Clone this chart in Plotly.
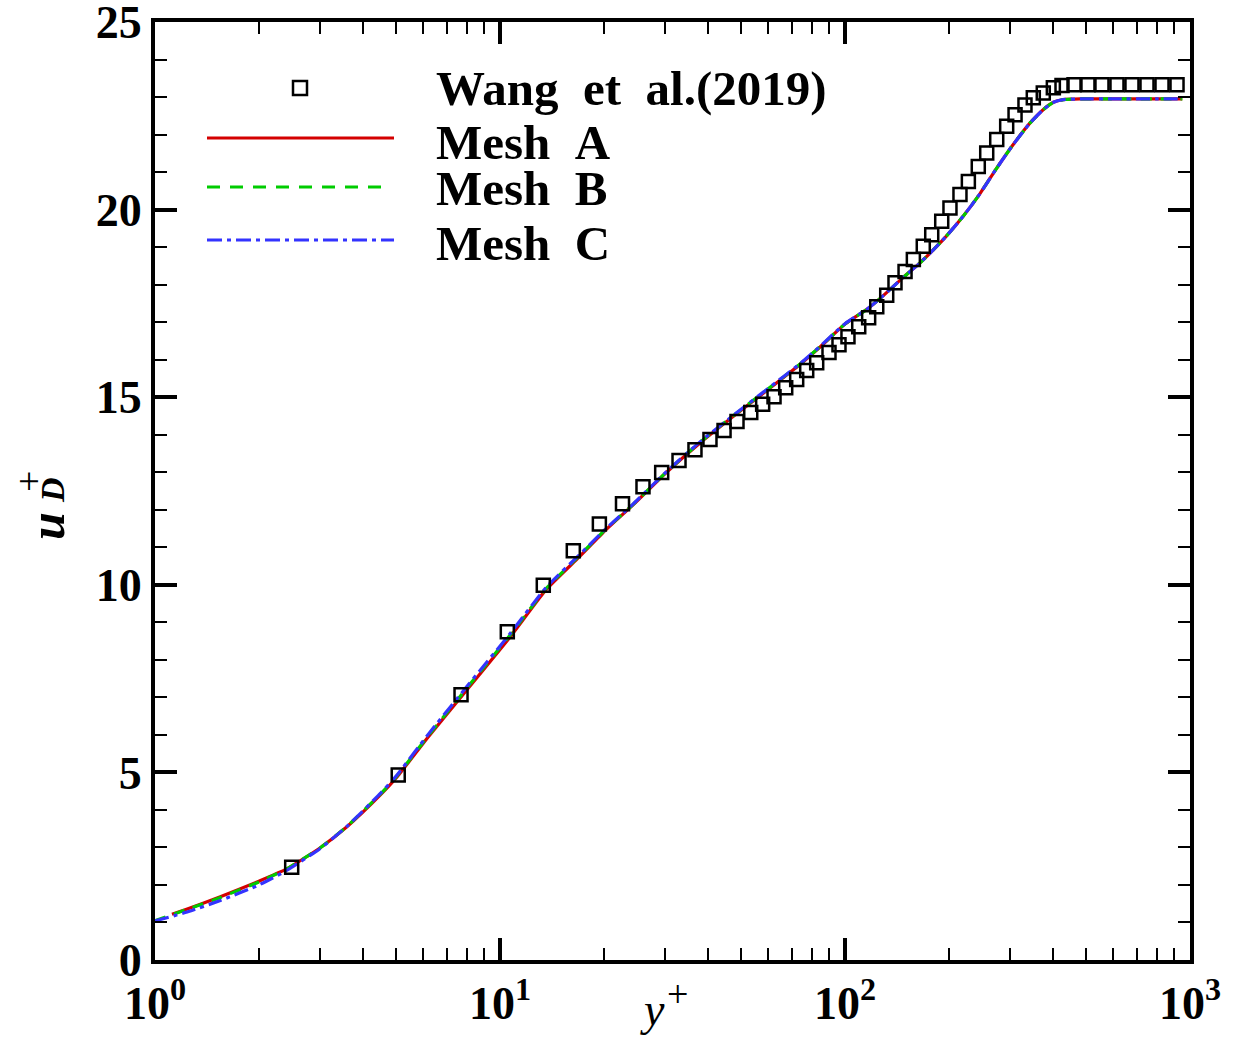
import plotly.graph_objects as go

# ---------------- data ----------------
wang_yplus = [2.49, 5.07, 7.71, 10.50, 13.35, 16.31, 19.41, 22.65, 25.97, 29.42,
              33.03, 36.74, 40.61, 44.61, 48.64, 53.31, 57.72, 62.27, 67.32, 72.44,
              77.45, 82.79, 89.87, 96.07, 102.0, 109.6, 117.1, 123.6, 132.1, 139.6,
              149.3, 157.8, 168.6, 178.4, 190.7, 201.5, 215.4, 227.8, 243.4, 257.5,
              275.3, 294.2, 311.1, 332.4, 351.4, 375.6, 401.7, 425.6, 461.1, 506.1,
              555.7, 614.3, 678.9, 750.5, 829.6, 917.0, 1013.4]
wang_uplus = [2.47, 4.93, 7.07, 8.75, 9.99, 10.91, 11.62, 12.16, 12.61, 12.99,
              13.31, 13.60, 13.87, 14.11, 14.35, 14.59, 14.81, 15.01, 15.25, 15.47,
              15.71, 15.92, 16.19, 16.40, 16.61, 16.88, 17.12, 17.41, 17.72, 18.05,
              18.35, 18.67, 19.02, 19.33, 19.69, 20.04, 20.40, 20.75, 21.15, 21.51,
              21.87, 22.22, 22.53, 22.79, 22.98, 23.11, 23.25, 23.31, 23.33, 23.33,
              23.33, 23.33, 23.33, 23.33, 23.33, 23.33, 23.33]

meshA_yplus = [1.12, 1.24, 1.54, 2.0, 2.4, 3.0, 3.6, 4.5, 5.0, 6.2, 8.1, 10.7, 13.6,
               17.0, 20.3, 24.3, 30.4, 38.0, 47.5, 60.0, 74.0, 85.0, 100.0, 116.0,
               126.0, 147.0, 165.0, 180.0, 197.0, 220.0, 246.0, 275.0, 307.0, 344.0,
               376.0, 402.0, 429.0, 480.0, 600.0, 800.0, 950.0]
meshA_uplus = [1.22, 1.36, 1.68, 2.10, 2.42, 2.98, 3.55, 4.40, 4.85, 5.95, 7.25, 8.61,
               9.87, 10.75, 11.47, 12.13, 13.00, 13.78, 14.49, 15.21, 15.87, 16.35,
               16.95, 17.35, 17.62, 18.18, 18.58, 18.92, 19.30, 19.82, 20.42, 21.10,
               21.73, 22.31, 22.67, 22.86, 22.93, 22.95, 22.95, 22.95, 22.95]

meshB_yplus = [1.0, 1.24, 1.54, 2.0, 2.4, 3.0, 3.6, 4.5, 5.0, 6.2, 8.1, 10.7, 13.6,
               17.0, 20.3, 24.3, 30.4, 38.0, 47.5, 60.0, 74.0, 85.0, 100.0, 116.0,
               126.0, 147.0, 165.0, 180.0, 197.0, 220.0, 246.0, 275.0, 307.0, 344.0,
               376.0, 402.0, 429.0, 480.0, 600.0, 800.0, 950.0]
meshB_uplus = [1.05, 1.35, 1.66, 2.08, 2.42, 2.98, 3.56, 4.42, 4.88, 5.98, 7.30, 8.66,
               9.90, 10.78, 11.49, 12.14, 13.01, 13.80, 14.51, 15.23, 15.88, 16.36,
               16.95, 17.35, 17.62, 18.18, 18.58, 18.92, 19.30, 19.82, 20.42, 21.10,
               21.73, 22.31, 22.67, 22.86, 22.93, 22.95, 22.95, 22.95, 22.95]

meshC_yplus = [1.0, 1.24, 1.54, 2.0, 2.4, 3.0, 3.6, 4.5, 5.0, 6.2, 8.1, 10.7, 13.6,
               17.0, 20.3, 24.3, 30.4, 38.0, 47.5, 60.0, 74.0, 85.0, 100.0, 116.0,
               126.0, 147.0, 165.0, 180.0, 197.0, 220.0, 246.0, 275.0, 307.0, 344.0,
               376.0, 402.0, 429.0, 480.0, 600.0, 800.0, 950.0]
meshC_uplus = [1.04, 1.28, 1.58, 2.00, 2.38, 2.96, 3.56, 4.44, 4.90, 6.02, 7.34, 8.70,
               9.93, 10.80, 11.50, 12.15, 13.02, 13.81, 14.52, 15.24, 15.89, 16.37,
               16.96, 17.35, 17.62, 18.18, 18.58, 18.92, 19.30, 19.82, 20.42, 21.10,
               21.73, 22.31, 22.67, 22.86, 22.93, 22.95, 22.95, 22.95, 22.95]

x_tickvals = [1, 10, 100, 1000]
x_ticktext = ["10<sup>0</sup>", "10<sup>1</sup>", "10<sup>2</sup>", "10<sup>3</sup>"]
x_minorvals = [m * d for d in (1, 10, 100) for m in range(2, 10)]
y_tickvals = [0, 5, 10, 15, 20, 25]
y_ticktext = ["0", "5", "10", "15", "20", "25"]

legend_labels = ["Wang et al.(2019)", "Mesh A", "Mesh B", "Mesh C"]

# ---------------- styles ----------------
RED = "#d40000"
GREEN = "#00cc00"
BLUE = "#3333ff"
SERIF = "Liberation Serif"

W, H = 1246, 1037
L, R, T, B = 155, 56, 22, 77
PW, PH = W - L - R, H - T - B


def px(xp):
    return (xp - L) / PW


def py(yp):
    return (H - B - yp) / PH


fig = go.Figure()
fig.add_trace(go.Scatter(x=meshA_yplus, y=meshA_uplus, mode="lines", name="Mesh A",
                         line=dict(color=RED, width=3.2, shape="spline", smoothing=0.5)))
fig.add_trace(go.Scatter(x=meshB_yplus, y=meshB_uplus, mode="lines", name="Mesh B",
                         line=dict(color=GREEN, width=3.2, dash="11px,9px",
                                   shape="spline", smoothing=0.5)))
fig.add_trace(go.Scatter(x=meshC_yplus, y=meshC_uplus, mode="lines", name="Mesh C",
                         line=dict(color=BLUE, width=3.2, dash="14px,5px,4px,5px",
                                   shape="spline", smoothing=0.5)))
fig.add_trace(go.Scatter(x=wang_yplus, y=wang_uplus, mode="markers", name=legend_labels[0],
                         cliponaxis=False,
                         marker=dict(symbol="square-open", size=13, color="black",
                                     line=dict(color="black", width=2.5))))

# ---- legend drawn by hand (long sample lines like the original) ----
shapes = [
    dict(type="rect", xref="paper", yref="paper",
         x0=px(293), x1=px(307), y0=py(95), y1=py(81),
         line=dict(color="black", width=2.5)),
    dict(type="line", xref="paper", yref="paper", x0=px(207), x1=px(394),
         y0=py(138), y1=py(138), line=dict(color=RED, width=3.2)),
    dict(type="line", xref="paper", yref="paper", x0=px(207), x1=px(385),
         y0=py(187), y1=py(187), line=dict(color=GREEN, width=3.2, dash="13px,10px")),
    dict(type="line", xref="paper", yref="paper", x0=px(207), x1=px(394),
         y0=py(240), y1=py(240), line=dict(color=BLUE, width=3.2, dash="15px,5px,4px,5px")),
]
legend_y = [88, 143, 188, 243]
annotations = []
for lab, yy in zip(legend_labels, legend_y):
    annotations.append(dict(text=lab.replace(" ", "&nbsp;&nbsp;"), xref="paper", yref="paper",
                            x=px(434), y=py(yy),
                            xanchor="left", yanchor="middle", showarrow=False,
                            font=dict(family=SERIF, size=49, color="black", weight="bold")))

# axis titles
annotations.append(dict(text="<i>y</i>", xref="paper", yref="paper",
                        x=px(652), y=py(1010), xanchor="center", yanchor="middle",
                        showarrow=False, font=dict(family=SERIF, size=46, color="black")))
annotations.append(dict(text="+", xref="paper", yref="paper",
                        x=px(677), y=py(994), xanchor="center", yanchor="middle",
                        showarrow=False, font=dict(family=SERIF, size=38, color="black")))
annotations.append(dict(text="<i>u</i>", xref="paper", yref="paper", textangle=-90,
                        x=px(47), y=py(526), xanchor="center", yanchor="middle",
                        showarrow=False,
                        font=dict(family=SERIF, size=50, color="black", weight="bold")))
annotations.append(dict(text="+", xref="paper", yref="paper", textangle=-90,
                        x=px(29), y=py(482), xanchor="center", yanchor="middle",
                        showarrow=False, font=dict(family=SERIF, size=38, color="black")))
annotations.append(dict(text="<i>D</i>", xref="paper", yref="paper", textangle=-90,
                        x=px(52), y=py(490), xanchor="center", yanchor="middle",
                        showarrow=False,
                        font=dict(family=SERIF, size=34, color="black", weight="bold")))

tickfont = dict(family=SERIF, size=46, color="black", weight="bold")

fig.update_layout(
    width=W, height=H,
    margin=dict(l=L, r=R, t=T, b=B, autoexpand=False),
    paper_bgcolor="white", plot_bgcolor="white",
    showlegend=False,
    shapes=shapes,
    annotations=annotations,
    xaxis=dict(type="log", range=[0, 3], showgrid=False, zeroline=False,
               showline=True, linewidth=4, linecolor="black", mirror="ticks",
               ticks="inside", ticklen=22, tickwidth=3.5, tickcolor="black",
               tickmode="array", tickvals=x_tickvals, ticktext=x_ticktext,
               tickfont=tickfont, ticklabeloverflow="allow", automargin=False,
               minor=dict(ticks="inside", ticklen=12, tickwidth=1.5, tickcolor="black",
                          tickmode="array", tickvals=x_minorvals, showgrid=False)),
    yaxis=dict(range=[0, 25], showgrid=False, zeroline=False,
               showline=True, linewidth=4, linecolor="black", mirror="ticks",
               ticks="inside", ticklen=22, tickwidth=3.5, tickcolor="black",
               tickmode="array", tickvals=y_tickvals, ticktext=y_ticktext,
               tickfont=tickfont, ticklabeloverflow="allow", automargin=False,
               minor=dict(ticks="inside", ticklen=12, tickwidth=1.5, tickcolor="black",
                          dtick=1, showgrid=False)),
)

fig.write_html("out.html")
